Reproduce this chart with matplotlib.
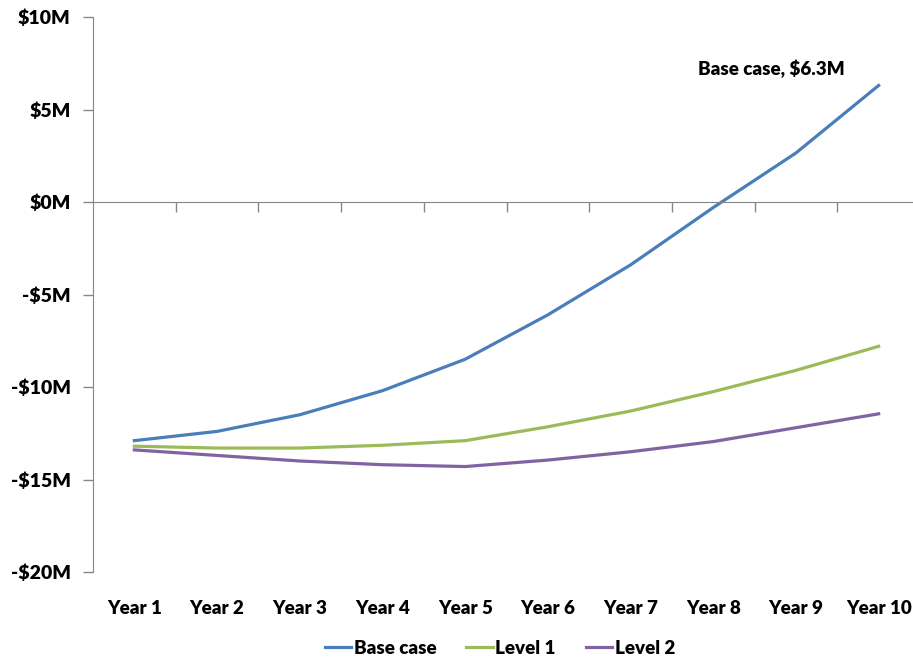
import matplotlib
matplotlib.use("Agg")
import matplotlib.pyplot as plt
from matplotlib.ticker import FuncFormatter, FixedLocator

plt.rcParams['font.family'] = ['Lato', 'DejaVu Sans']
plt.rcParams['font.weight'] = 'heavy'

years = ["Year 1", "Year 2", "Year 3", "Year 4", "Year 5",
         "Year 6", "Year 7", "Year 8", "Year 9", "Year 10"]
base_case = [-12.9, -12.4, -11.5, -10.2, -8.5, -6.1, -3.4, -0.3, 2.65, 6.3]
level_1 = [-13.2, -13.3, -13.3, -13.15, -12.9, -12.15, -11.3, -10.25, -9.1, -7.8]
level_2 = [-13.4, -13.7, -14.0, -14.2, -14.3, -13.95, -13.5, -12.95, -12.2, -11.45]

y_ticks = [-20, -15, -10, -5, 0, 5, 10]

blue = "#4A7EBB"
green = "#9BBB59"
purple = "#8064A2"
grey = "#868686"

fig = plt.figure(figsize=(9.13, 6.61), dpi=100)
W, H = 913, 661
ax = fig.add_axes([93 / W, 89 / H, (920 - 93) / W, 555 / H])

x = list(range(1, len(years) + 1))
ax.plot(x, base_case, color=blue, lw=2.3, label="Base case")
ax.plot(x, level_1, color=green, lw=2.3, label="Level 1")
ax.plot(x, level_2, color=purple, lw=2.3, label="Level 2")

ax.set_xlim(0.5, len(years) + 0.5)
ax.set_ylim(-20, 10)

# y axis
ax.set_yticks(y_ticks)
ax.yaxis.set_major_formatter(FuncFormatter(
    lambda v, p: f"${v:.0f}M" if v >= 0 else f"-${-v:.0f}M"))
ax.tick_params(axis='y', direction='out', length=7, width=1, color=grey,
               labelsize=14, pad=9)

# x axis line at zero with category boundary ticks
ax.spines['bottom'].set_position(('data', 0))
ax.spines['bottom'].set_color(grey)
ax.spines['left'].set_color(grey)
ax.spines['top'].set_visible(False)
ax.spines['right'].set_visible(False)
ax.xaxis.set_major_locator(FixedLocator([i + 0.5 for i in x]))
ax.tick_params(axis='x', direction='out', length=7, width=1, color=grey,
               labelbottom=False)

# category labels at the bottom of the plot
sec = ax.secondary_xaxis('bottom')
sec.set_xticks(x)
sec.set_xticklabels(years)
sec.spines['bottom'].set_visible(False)
sec.tick_params(axis='x', length=0, labelsize=13.5, pad=20)

ax.annotate(f"Base case, ${base_case[-1]}M", xy=(x[-1], base_case[-1]),
            xytext=(-77, 5), textcoords='offset points',
            ha='center', va='bottom', fontsize=13.5)

leg = ax.legend(loc='center', bbox_to_anchor=(500 / W, 13 / H),
                bbox_transform=fig.transFigure, ncol=3, frameon=False,
                fontsize=13.5, handlelength=1.4, handletextpad=0.15,
                columnspacing=1.6)

fig.savefig("out.png", dpi=100)
